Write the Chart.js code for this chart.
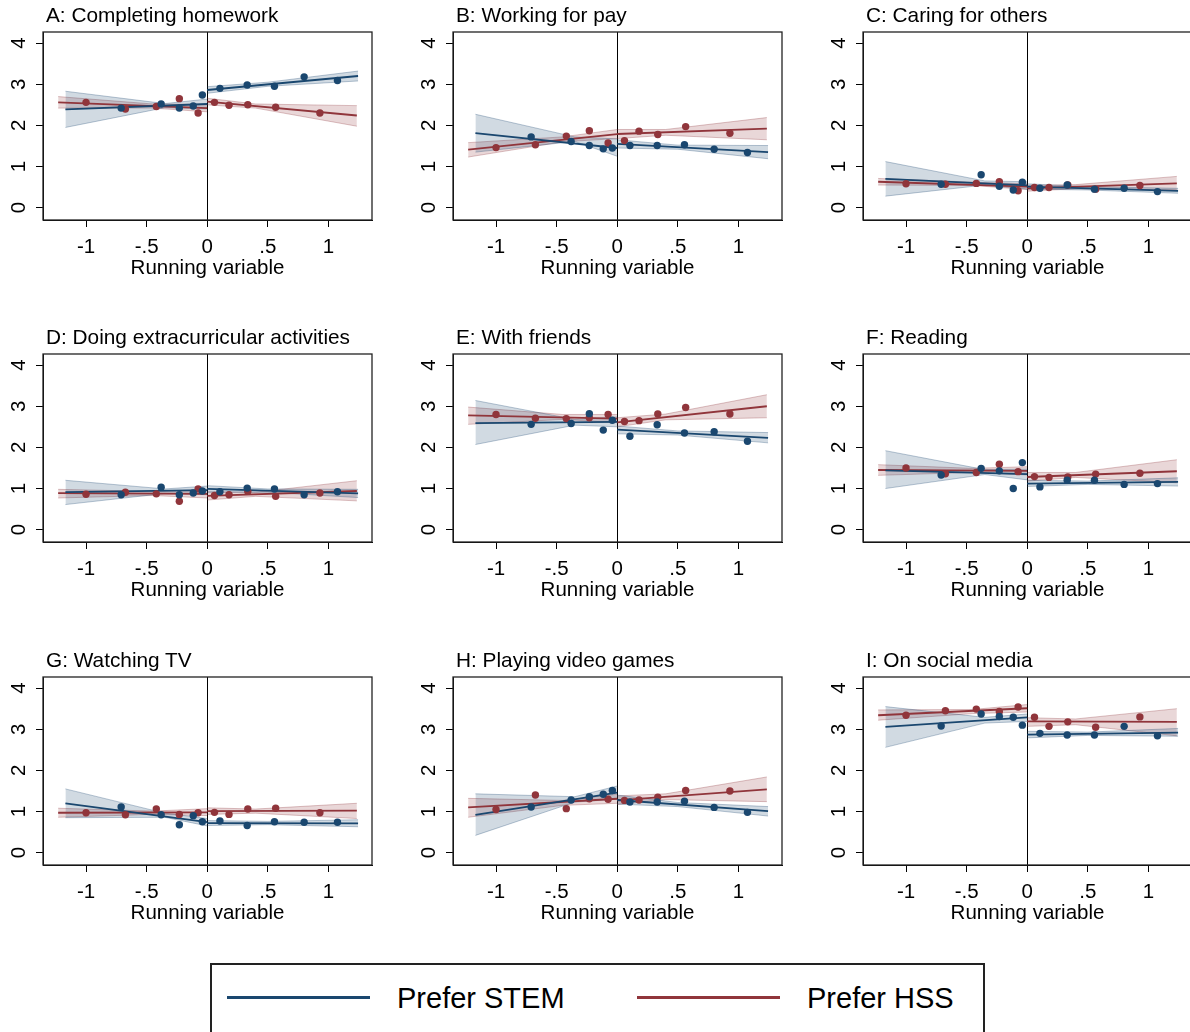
<!DOCTYPE html>
<html>
<head>
<meta charset="utf-8">
<script src="https://cdn.jsdelivr.net/npm/chart.js@4.4.1/dist/chart.umd.min.js"></script>
<style>
  html, body { margin: 0; padding: 0; background: #fff; }
  body { width: 1190px; height: 1032px; overflow: hidden; position: relative; font-family: "Liberation Sans", Arial, Helvetica, sans-serif; }
  .panel { position: absolute; width: 400px; height: 290px; }
  .panel canvas { position: absolute; left: 0; top: 0; }
  .ptitle { position: absolute; left: 46px; top: 3px; font-size: 20.8px; color: #000; white-space: nowrap; line-height: 24px; }
  .legend { position: absolute; left: 210px; top: 963px; width: 775px; height: 100px; border: 2px solid #222; box-sizing: border-box; }
  .lg-line { position: absolute; height: 3px; width: 143px; top: 31px; }
  .lg-text { position: absolute; top: 16px; font-size: 29px; line-height: 34px; color: #000; white-space: nowrap; }
</style>
</head>
<body>
<div id="panels"></div>
<div class="legend" id="legend"></div>
<script>
// ---------- data ----------
const panelTitles = [
  'A: Completing homework', 'B: Working for pay', 'C: Caring for others',
  'D: Doing extracurricular activities', 'E: With friends', 'F: Reading',
  'G: Watching TV', 'H: Playing video games', 'I: On social media'
];
const seriesNames = ['Prefer STEM', 'Prefer HSS'];
const xAxisTitle = 'Running variable';
const xTickValues = [-1, -0.5, 0, 0.5, 1];
const xTickLabels = ['-1', '-.5', '0', '.5', '1'];
const yTickValues = [0, 1, 2, 3, 4];
const yTickLabels = ['0', '1', '2', '3', '4'];

// bin means (dots)
const stemBinX = [-0.71, -0.38, -0.23, -0.115, -0.04, 0.105, 0.33, 0.555, 0.80, 1.075];
const hssBinX  = [-1.0, -0.675, -0.42, -0.23, -0.075, 0.06, 0.18, 0.335, 0.565, 0.93];
const stemBinY = [
  [2.42, 2.52, 2.42, 2.47, 2.74, 2.90, 2.98, 2.95, 3.18, 3.09],
  [1.72, 1.61, 1.51, 1.43, 1.45, 1.51, 1.51, 1.53, 1.42, 1.34],
  [0.57, 0.80, 0.52, 0.43, 0.62, 0.47, 0.55, 0.45, 0.47, 0.39],
  [0.85, 1.03, 0.85, 0.89, 0.94, 0.92, 1.01, 0.99, 0.85, 0.92],
  [2.56, 2.58, 2.82, 2.42, 2.66, 2.27, 2.55, 2.35, 2.38, 2.15],
  [1.33, 1.49, 1.43, 1.00, 1.63, 1.04, 1.20, 1.20, 1.10, 1.12],
  [1.11, 0.92, 0.68, 0.90, 0.75, 0.77, 0.66, 0.75, 0.74, 0.74],
  [1.11, 1.28, 1.36, 1.42, 1.51, 1.23, 1.23, 1.25, 1.10, 0.98],
  [3.08, 3.37, 3.31, 3.29, 3.10, 2.90, 2.86, 2.86, 3.07, 2.84]
];
const hssBinY = [
  [2.56, 2.40, 2.46, 2.65, 2.30, 2.56, 2.49, 2.50, 2.44, 2.30],
  [1.46, 1.53, 1.74, 1.87, 1.57, 1.63, 1.86, 1.78, 1.97, 1.81],
  [0.58, 0.57, 0.59, 0.63, 0.41, 0.49, 0.49, 0.55, 0.45, 0.54],
  [0.86, 0.91, 0.87, 0.69, 0.99, 0.83, 0.85, 0.93, 0.81, 0.89],
  [2.80, 2.71, 2.70, 2.72, 2.80, 2.63, 2.65, 2.81, 2.97, 2.81],
  [1.50, 1.36, 1.39, 1.59, 1.41, 1.29, 1.27, 1.28, 1.35, 1.37],
  [0.97, 0.92, 1.06, 0.93, 0.97, 0.98, 0.93, 1.06, 1.08, 0.97],
  [1.05, 1.40, 1.07, 1.31, 1.30, 1.27, 1.28, 1.35, 1.51, 1.50],
  [3.34, 3.45, 3.49, 3.43, 3.54, 3.29, 3.07, 3.18, 3.05, 3.30]
];

// fitted lines: [left start, left end, right start, right end]
const stemFitX = [-1.17, 0, 0, 1.245];
const hssFitX  = [-1.23, 0, 0, 1.235];
const stemFitY = [
  [2.39, 2.52, 2.86, 3.20],
  [1.81, 1.45, 1.55, 1.35],
  [0.70, 0.54, 0.51, 0.41],
  [0.91, 0.96, 0.99, 0.88],
  [2.59, 2.62, 2.43, 2.23],
  [1.44, 1.35, 1.12, 1.16],
  [1.20, 0.74, 0.72, 0.71],
  [0.92, 1.46, 1.28, 1.01],
  [3.06, 3.29, 2.87, 2.92]
];
const hssFitY = [
  [2.56, 2.42, 2.58, 2.24],
  [1.41, 1.79, 1.79, 1.92],
  [0.63, 0.51, 0.47, 0.59],
  [0.89, 0.87, 0.82, 0.94],
  [2.78, 2.70, 2.61, 3.00],
  [1.45, 1.43, 1.28, 1.42],
  [0.97, 0.98, 1.01, 1.02],
  [1.10, 1.31, 1.27, 1.54],
  [3.34, 3.51, 3.19, 3.18]
];

// confidence bands: first three = left side, last three = right side
const stemCiX = [-1.17, -0.35, 0, 0, 0.5, 1.245];
const hssCiX  = [-1.23, -0.45, 0, 0, 0.4, 1.235];
const stemCiLo = [
  [1.95, 2.43, 2.40, 2.78, 2.95, 3.08],
  [1.35, 1.61, 1.25, 1.45, 1.42, 1.19],
  [0.28, 0.55, 0.45, 0.45, 0.43, 0.35],
  [0.61, 0.88, 0.85, 0.91, 0.91, 0.78],
  [2.07, 2.54, 2.50, 2.33, 2.30, 2.11],
  [1.00, 1.34, 1.21, 1.05, 1.10, 1.06],
  [0.85, 0.86, 0.65, 0.66, 0.68, 0.63],
  [0.42, 1.23, 1.30, 1.18, 1.12, 0.89],
  [2.56, 3.15, 3.19, 2.79, 2.85, 2.83]
];
const stemCiHi = [
  [2.83, 2.53, 2.64, 2.94, 3.05, 3.32],
  [2.27, 1.72, 1.67, 1.65, 1.52, 1.51],
  [1.12, 0.65, 0.63, 0.58, 0.51, 0.47],
  [1.20, 0.99, 1.06, 1.07, 0.99, 0.98],
  [3.14, 2.68, 2.74, 2.52, 2.40, 2.36],
  [1.92, 1.46, 1.47, 1.20, 1.18, 1.26],
  [1.55, 0.96, 0.83, 0.78, 0.76, 0.80],
  [1.43, 1.36, 1.62, 1.40, 1.22, 1.12],
  [3.55, 3.29, 3.37, 2.95, 2.93, 3.02]
];
const hssCiLo = [
  [2.42, 2.42, 2.33, 2.50, 2.42, 1.98],
  [1.23, 1.60, 1.68, 1.68, 1.76, 1.65],
  [0.55, 0.54, 0.44, 0.40, 0.46, 0.43],
  [0.77, 0.83, 0.77, 0.72, 0.81, 0.70],
  [2.56, 2.68, 2.60, 2.50, 2.67, 2.72],
  [1.32, 1.39, 1.33, 1.18, 1.27, 1.14],
  [0.86, 0.93, 0.90, 0.93, 0.96, 0.83],
  [0.86, 1.15, 1.20, 1.17, 1.29, 1.24],
  [3.22, 3.38, 3.42, 3.07, 3.11, 2.84]
];
const hssCiHi = [
  [2.70, 2.52, 2.51, 2.66, 2.52, 2.48],
  [1.58, 1.72, 1.90, 1.90, 1.90, 2.19],
  [0.71, 0.62, 0.58, 0.54, 0.56, 0.76],
  [0.98, 0.93, 0.97, 0.92, 0.91, 1.19],
  [2.98, 2.80, 2.80, 2.72, 2.81, 3.28],
  [1.58, 1.49, 1.53, 1.39, 1.39, 1.70],
  [1.08, 1.01, 1.07, 1.09, 1.06, 1.20],
  [1.32, 1.27, 1.42, 1.38, 1.43, 1.84],
  [3.47, 3.48, 3.60, 3.28, 3.25, 3.50]
];

// ---------- styling ----------
const NAVY = '#1a476f';
const MAROON = '#90353b';
const NAVY_BAND = 'rgba(26,71,111,0.20)';
const NAVY_EDGE = 'rgba(26,71,111,0.30)';
const MAROON_BAND = 'rgba(144,53,59,0.20)';
const MAROON_EDGE = 'rgba(144,53,59,0.30)';
const FONT = '"Liberation Sans", Arial, Helvetica, sans-serif';

const colLeft = [0, 410, 820];
const rowTop = [0, 322, 645];

function pts(xs, ys, from, to) {
  const out = [];
  for (let i = from; i < to; i++) out.push({ x: xs[i], y: ys[i] });
  return out;
}

const framePlugin = {
  id: 'frame',
  beforeDatasetsDraw(chart) {
    const { ctx, chartArea: a, scales: { x } } = chart;
    const zx = Math.round(x.getPixelForValue(0)) + 0.5;
    ctx.save();
    ctx.strokeStyle = '#000';
    ctx.lineWidth = 1;
    ctx.beginPath();
    ctx.moveTo(zx, a.top);
    ctx.lineTo(zx, a.bottom);
    ctx.stroke();
    ctx.restore();
  },
  afterDraw(chart) {
    const { ctx, chartArea: a } = chart;
    ctx.save();
    ctx.strokeStyle = '#222';
    ctx.lineWidth = 1.3;
    ctx.strokeRect(a.left, a.top, a.right - a.left, a.bottom - a.top);
    ctx.restore();
  }
};

function bandDatasets(xs, lo, hi, band, edge) {
  const base = { type: 'line', pointRadius: 0, borderWidth: 1, borderColor: edge, backgroundColor: band, tension: 0, order: 5 };
  return [
    Object.assign({}, base, { data: pts(xs, hi, 0, 3), fill: '+1' }),
    Object.assign({}, base, { data: pts(xs, lo, 0, 3), fill: false }),
    Object.assign({}, base, { data: pts(xs, hi, 3, 6), fill: '+1' }),
    Object.assign({}, base, { data: pts(xs, lo, 3, 6), fill: false })
  ];
}

function fitDatasets(xs, ys, color) {
  const base = { type: 'line', pointRadius: 0, borderWidth: 1.8, borderColor: color, fill: false, tension: 0, order: 2 };
  return [
    Object.assign({}, base, { data: pts(xs, ys, 0, 2) }),
    Object.assign({}, base, { data: pts(xs, ys, 2, 4) })
  ];
}

const panelsEl = document.getElementById('panels');
panelTitles.forEach((title, p) => {
  const div = document.createElement('div');
  div.className = 'panel';
  div.style.left = colLeft[p % 3] + 'px';
  div.style.top = rowTop[Math.floor(p / 3)] + 'px';
  const cv = document.createElement('canvas');
  cv.width = 400; cv.height = 290;
  cv.style.width = '400px'; cv.style.height = '290px';
  div.appendChild(cv);
  const t = document.createElement('div');
  t.className = 'ptitle';
  t.textContent = title;
  div.appendChild(t);
  panelsEl.appendChild(div);

  const datasets = [].concat(
    bandDatasets(stemCiX, stemCiLo[p], stemCiHi[p], NAVY_BAND, NAVY_EDGE),
    bandDatasets(hssCiX, hssCiLo[p], hssCiHi[p], MAROON_BAND, MAROON_EDGE),
    fitDatasets(stemFitX, stemFitY[p], NAVY),
    fitDatasets(hssFitX, hssFitY[p], MAROON),
    [
      { type: 'scatter', label: seriesNames[0], data: pts(stemBinX, stemBinY[p], 0, stemBinX.length), pointRadius: 3.7, pointBackgroundColor: NAVY, pointBorderWidth: 0, order: 1 },
      { type: 'scatter', label: seriesNames[1], data: pts(hssBinX, hssBinY[p], 0, hssBinX.length), pointRadius: 3.7, pointBackgroundColor: MAROON, pointBorderWidth: 0, order: 1 }
    ]
  );

  new Chart(cv, {
    type: 'line',
    data: { datasets },
    plugins: [framePlugin],
    options: {
      responsive: false,
      animation: false,
      events: [],
      layout: { padding: { top: 32, right: 28, left: 0, bottom: 0 } },
      plugins: { legend: { display: false }, tooltip: { enabled: false }, title: { display: false } },
      scales: {
        x: {
          type: 'linear',
          min: -1.355, max: 1.36,
          afterBuildTicks: s => { s.ticks = xTickValues.map(v => ({ value: v })); },
          afterFit: s => { s.height = 70; },
          ticks: {
            callback: v => xTickLabels[xTickValues.indexOf(v)],
            font: { family: FONT, size: 20.5 }, color: '#000', padding: 8, maxRotation: 0, autoSkip: false
          },
          grid: { drawOnChartArea: false, drawTicks: true, tickLength: 7, color: '#000', lineWidth: 1 },
          border: { display: true, color: '#000', width: 1 },
          title: { display: true, text: xAxisTitle, font: { family: FONT, size: 20.5 }, color: '#000', padding: { top: 0, bottom: 9 } }
        },
        y: {
          type: 'linear',
          min: -0.3, max: 4.27,
          afterBuildTicks: s => { s.ticks = yTickValues.map(v => ({ value: v })); },
          afterFit: s => { s.width = 43; },
          ticks: {
            callback: v => yTickLabels[yTickValues.indexOf(v)],
            font: { family: FONT, size: 20.5 }, color: '#000', padding: 11,
            minRotation: 90, maxRotation: 90, crossAlign: 'center', autoSkip: false
          },
          grid: { drawOnChartArea: false, drawTicks: true, tickLength: 7, color: '#000', lineWidth: 1 },
          border: { display: true, color: '#000', width: 1 }
        }
      }
    }
  });
});

// legend
const legendEl = document.getElementById('legend');
[[NAVY, 15, 185], [MAROON, 425, 595]].forEach((spec, i) => {
  const ln = document.createElement('div');
  ln.className = 'lg-line';
  ln.style.left = spec[1] + 'px';
  ln.style.background = spec[0];
  legendEl.appendChild(ln);
  const tx = document.createElement('div');
  tx.className = 'lg-text';
  tx.style.left = spec[2] + 'px';
  tx.textContent = seriesNames[i];
  legendEl.appendChild(tx);
});
</script>
</body>
</html>
